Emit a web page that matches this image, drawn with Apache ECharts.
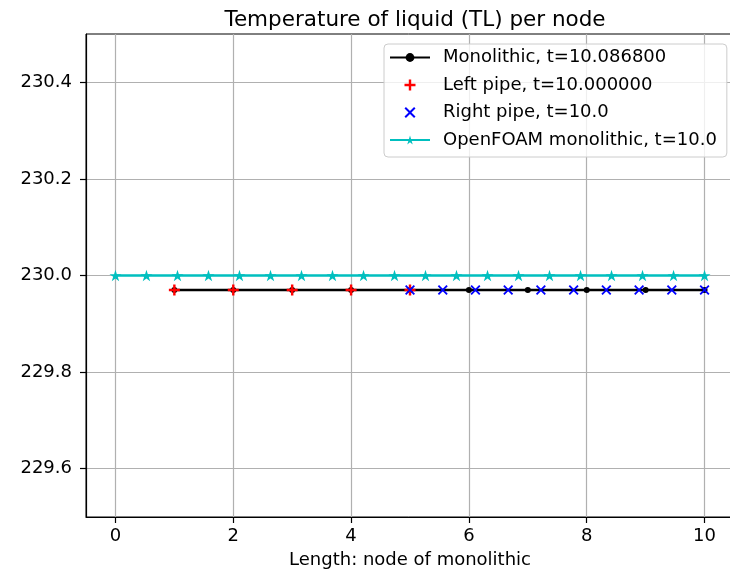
<!DOCTYPE html>
<html>
<head>
<meta charset="utf-8">
<script src="https://cdn.jsdelivr.net/npm/echarts@6/dist/echarts.min.js"></script>
<style>
  html, body { margin: 0; padding: 0; background: #fff; }
  #main { width: 730px; height: 573px; }
</style>
</head>
<body>
<div id="main"></div>
<script>
// data
var monoX = [1, 2, 3, 4, 5, 6, 7, 8, 9, 10];
var monoY = [229.97, 229.97, 229.97, 229.97, 229.97, 229.97, 229.97, 229.97, 229.97, 229.97];
var leftX = [1, 2, 3, 4, 5];
var leftY = [229.97, 229.97, 229.97, 229.97, 229.97];
var rightX = [5, 5.556, 6.111, 6.667, 7.222, 7.778, 8.333, 8.889, 9.444, 10];
var rightY = [229.97, 229.97, 229.97, 229.97, 229.97, 229.97, 229.97, 229.97, 229.97, 229.97];
var foamX = [0, 0.526, 1.053, 1.579, 2.105, 2.632, 3.158, 3.684, 4.211, 4.737,
             5.263, 5.789, 6.316, 6.842, 7.368, 7.895, 8.421, 8.947, 9.474, 10];
var foamY = [230.0, 230.0, 230.0, 230.0, 230.0, 230.0, 230.0, 230.0, 230.0, 230.0,
             230.0, 230.0, 230.0, 230.0, 230.0, 230.0, 230.0, 230.0, 230.0, 230.0];
var xTicks = [0, 2, 4, 6, 8, 10];
var yTicks = [229.6, 229.8, 230.0, 230.2, 230.4];

var names = [
  'Monolithic, t=10.086800',
  'Left pipe, t=10.000000',
  'Right pipe, t=10.0',
  'OpenFOAM monolithic, t=10.0'
];

var font = 'DejaVu Sans';
var plusPath = 'path://M3.9,0 L6.1,0 L6.1,3.9 L10,3.9 L10,6.1 L6.1,6.1 L6.1,10 L3.9,10 L3.9,6.1 L0,6.1 L0,3.9 L3.9,3.9 Z';
var crossPath = 'path://M1.3,0 L5,3.7 L8.7,0 L10,1.3 L6.3,5 L10,8.7 L8.7,10 L5,6.3 L1.3,10 L0,8.7 L3.7,5 L0,1.3 Z';
var starPath = 'path://M0,-100 L22,-31 L95,-31 L36,12 L59,81 L0,38 L-59,81 L-36,12 L-95,-31 L-22,-31 Z';

var pairs = function (xs, ys) {
  return xs.map(function (x, i) { return [x, ys[i]]; });
};

var chart = echarts.init(document.getElementById('main'), null, { renderer: 'canvas' });
chart.setOption({
  animation: false,
  backgroundColor: '#fff',
  textStyle: { fontFamily: font },
  title: {
    text: 'Temperature of liquid (TL) per node',
    left: 410,
    top: 4,
    textAlign: 'center',
    textStyle: { fontFamily: font, fontSize: 21.5, fontWeight: 'normal', color: '#000' }
  },
  grid: {
    left: 86, top: 34, right: -4, bottom: 56,
    show: true, borderColor: '#000', borderWidth: 1,
    outerBoundsMode: 'none'
  },
  legend: {
    orient: 'vertical',
    left: 384,
    top: 44,
    padding: [4.5, 10, 8, 5],
    itemWidth: 40,
    itemHeight: 11,
    itemGap: 9.5,
    backgroundColor: 'rgba(255,255,255,0.8)',
    borderColor: '#cccccc',
    borderWidth: 1,
    borderRadius: 4,
    textStyle: { fontFamily: font, fontSize: 18, color: '#000', padding: [0, 0, 0, 8] },
    data: names
  },
  xAxis: {
    type: 'value',
    min: -0.5,
    max: 10.5,
    name: 'Length: node of monolithic',
    nameLocation: 'middle',
    nameGap: 34,
    nameTextStyle: { fontFamily: font, fontSize: 18, color: '#000' },
    axisLine: { onZero: false, lineStyle: { color: '#000', width: 1.2 } },
    axisTick: { length: 6, lineStyle: { color: '#000', width: 1.2 }, customValues: xTicks },
    axisLabel: { fontFamily: font, fontSize: 18, color: '#000', margin: 10.5, customValues: xTicks },
    splitLine: { show: true, lineStyle: { color: '#b0b0b0', width: 1.2 } }
  },
  yAxis: {
    type: 'value',
    min: 229.5,
    max: 230.5,
    axisLine: { show: true, onZero: false, lineStyle: { color: '#000', width: 1.2 } },
    axisTick: { show: true, length: 6, lineStyle: { color: '#000', width: 1.2 }, customValues: yTicks },
    axisLabel: {
      fontFamily: font, fontSize: 18, color: '#000', margin: 14, customValues: yTicks,
      formatter: function (v) { return v.toFixed(1); }
    },
    splitLine: { show: true, lineStyle: { color: '#b0b0b0', width: 1.2 } }
  },
  series: [
    {
      name: names[0],
      type: 'line',
      z: 2,
      data: pairs(monoX, monoY),
      symbol: 'circle',
      symbolSize: 6,
      color: '#000',
      itemStyle: { color: '#000' },
      lineStyle: { color: '#000', width: 2.7 }
    },
    {
      name: names[1],
      type: 'scatter',
      z: 3,
      data: pairs(leftX, leftY),
      symbol: plusPath,
      symbolSize: 11,
      itemStyle: { color: '#ff0000', opacity: 1 }
    },
    {
      name: names[2],
      type: 'scatter',
      z: 4,
      data: pairs(rightX, rightY),
      symbol: crossPath,
      symbolSize: 10,
      itemStyle: { color: '#0000ff', opacity: 1 }
    },
    {
      name: names[3],
      type: 'line',
      z: 5,
      data: pairs(foamX, foamY),
      symbol: starPath,
      symbolSize: [12, 11.5],
      color: '#00bfbf',
      itemStyle: { color: '#00bfbf' },
      lineStyle: { color: '#00bfbf', width: 2.7 }
    }
  ]
});
</script>
</body>
</html>
